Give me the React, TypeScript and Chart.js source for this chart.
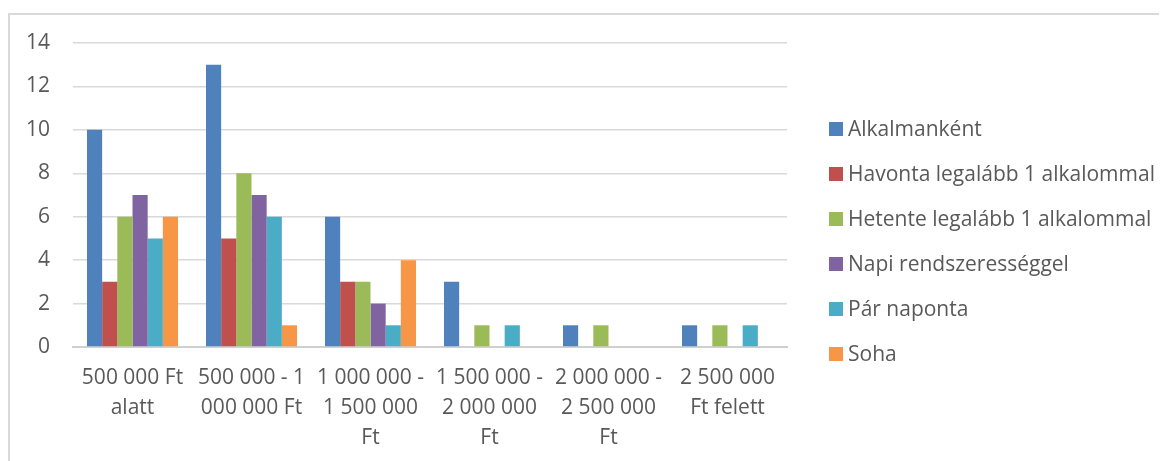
import React, { useEffect, useRef } from "react";
import { Chart, registerables } from "chart.js";

Chart.register(...registerables);

const categories: string[][] = [
  ["500 000 Ft", "alatt"],
  ["500 000 - 1", "000 000 Ft"],
  ["1 000 000 -", "1 500 000", "Ft"],
  ["1 500 000 -", "2 000 000", "Ft"],
  ["2 000 000 -", "2 500 000", "Ft"],
  ["2 500 000", "Ft felett"],
];

const seriesNames = [
  "Alkalmanként",
  "Havonta legalább 1 alkalommal",
  "Hetente legalább 1 alkalommal",
  "Napi rendszerességgel",
  "Pár naponta",
  "Soha",
];

const alkalmankent = [10, 13, 6, 3, 1, 1];
const havonta = [3, 5, 3, 0, 0, 0];
const hetente = [6, 8, 3, 1, 1, 1];
const napi = [7, 7, 2, 0, 0, 0];
const parNaponta = [5, 6, 1, 1, 0, 1];
const soha = [6, 1, 4, 0, 0, 0];

const yTicks = [0, 2, 4, 6, 8, 10, 12, 14];

const colors = ["#4F81BD", "#C0504D", "#9BBB59", "#8064A2", "#4BACC6", "#F79646"];

const FONT = "'Open Sans', sans-serif";
const TEXT = "#595959";
const FS = 21;

const legendPlugin = {
  id: "customLegend",
  afterDraw(chart: any) {
    const { ctx, chartArea } = chart;
    ctx.save();
    ctx.font = `${FS}px ${FONT}`;
    ctx.textBaseline = "middle";
    ctx.textAlign = "left";
    const x0 = chartArea.right + 42;
    const y0 = chartArea.top + 86;
    chart.data.datasets.forEach((ds: any, i: number) => {
      const cy = y0 + i * 45;
      ctx.fillStyle = ds.backgroundColor;
      ctx.fillRect(x0, cy - 7, 14, 14);
      ctx.fillStyle = TEXT;
      ctx.fillText(ds.label, x0 + 19, cy + 1);
    });
    ctx.restore();
  },
};

export default function App() {
  const ref = useRef<HTMLCanvasElement | null>(null);

  useEffect(() => {
    document.body.style.overflow = "hidden";
    const values = [alkalmankent, havonta, hetente, napi, parNaponta, soha];
    const chart = new Chart(ref.current as HTMLCanvasElement, {
      type: "bar",
      data: {
        labels: categories,
        datasets: seriesNames.map((name, i) => ({
          label: name,
          data: values[i],
          backgroundColor: colors[i],
          borderWidth: 0,
          categoryPercentage: 0.765,
          barPercentage: 1,
        })),
      },
      options: {
        animation: false,
        responsive: false,
        maintainAspectRatio: false,
        layout: { padding: { top: 28, right: 381, bottom: 0, left: 0 } },
        plugins: {
          legend: { display: false },
          tooltip: { enabled: false },
        },
        scales: {
          x: {
            grid: { display: false, drawTicks: false },
            border: { display: true, color: "#d0d0d0", width: 2 },
            ticks: {
              color: TEXT,
              font: { family: FONT, size: FS, lineHeight: 30 / FS },
              padding: 16,
              maxRotation: 0,
              autoSkip: false,
            },
            afterFit(scale: any) {
              scale.height = 114;
              scale.paddingLeft = 0;
              scale.paddingRight = 0;
            },
          },
          y: {
            min: 0,
            max: 14,
            afterBuildTicks(scale: any) {
              scale.ticks = yTicks.map((v) => ({ value: v }));
            },
            grid: { color: "#d9d9d9", lineWidth: 1.5, drawTicks: false },
            border: { display: false },
            ticks: {
              color: TEXT,
              font: { family: FONT, size: FS },
              padding: 23,
            },
            afterFit(scale: any) {
              scale.width = 63;
              scale.paddingTop = 0;
              scale.paddingBottom = 0;
            },
          },
        },
      },
      plugins: [legendPlugin],
    });
    return () => chart.destroy();
  }, []);

  return (
    <div
      style={{
        marginTop: 5,
        width: 1165,
        height: 448,
        borderTop: "2px solid #d9d9d9",
        borderLeft: "2px solid #d9d9d9",
        boxSizing: "border-box",
        overflow: "hidden",
      }}
    >
      <canvas ref={ref} width={1158} height={446} style={{ display: "block" }} />
    </div>
  );
}
